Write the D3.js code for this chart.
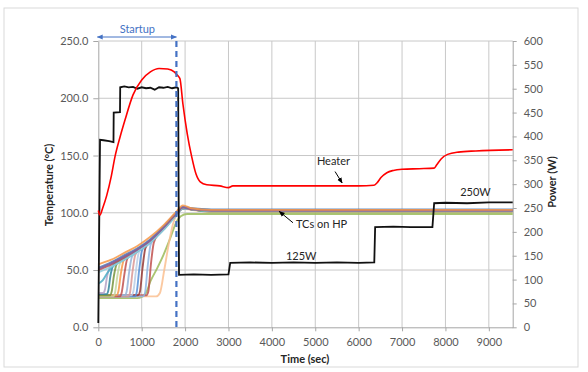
<!DOCTYPE html>
<html>
<head>
<meta charset="utf-8">
<script src="https://cdn.jsdelivr.net/npm/d3@7"></script>
<style>
  body { margin: 0; background: #fff; }
  svg text { font-family: Lato, "Open Sans", sans-serif; }
</style>
</head>
<body>
<div id="chart"></div>
<script>
// axis ticks
var timeTicks = [0, 1000, 2000, 3000, 4000, 5000, 6000, 7000, 8000, 9000];
var tempTicks = [0, 50, 100, 150, 200, 250];
var powerTicks = [0, 50, 100, 150, 200, 250, 300, 350, 400, 450, 500, 550, 600];

// heater temperature [time (s), degC]
var heaterTemp = [[0,102],[40,98],[100,104],[193,115],[300,132],[385,149],[500,166],[615,181],[800,203],
  [1000,216],[1200,223],[1400,226],[1600,225.5],[1750,223],[1800,221],[1850,219],[1882,217],[1950,195],
  [2050,169],[2152,149],[2250,134],[2350,127],[2500,124.5],[2800,123.5],[3000,122],[3100,123.5],
  [4000,123.5],[5000,123.5],[6000,123.5],[6350,124],[6420,126],[6520,131],[6650,135],[6800,137],
  [7000,138],[7400,138.5],[7740,139],[7800,142],[7900,147],[8050,151],[8300,153],[8700,154],[9550,155]];

// heater power [time (s), W]
var powerData = [[0,9],[40,393],[120,392],[250,390],[350,388],[355,450],[500,451],[505,503],[600,505],
  [700,503],[800,504],[900,500],[1000,503],[1100,501],[1200,502],[1300,498],[1400,503],[1500,502],
  [1600,504],[1700,501],[1800,503],[1840,501],[1860,110],[2200,111],[2600,110],[3000,111],[3040,135],
  [3500,136],[4000,135],[4500,136],[5000,135],[5500,136],[6000,135],[6360,136],[6380,210],[6800,211],
  [7200,210],[7700,210],[7740,260],[8000,261],[8500,260],[9000,262],[9550,262]];

// thermocouples on heat pipe [time (s), degC]
var tcColors = ["#F79646","#8064A2","#4F81BD","#C0504D","#93CDDD","#4BACC6","#B3A2C7","#31859C","#77933C",
  "#C3D69B","#F79646","#C0504D","#95B3D7","#D99694","#B9CDE5","#558ED5","#953735","#8EB4E3","#C0504D","#FAC090","#9BBB59"];
var tcData = [
  [[0,55],[300,59],[600,65],[900,71],[1200,79],[1500,89],[1800,101],[1950,106.5],[2150,104],[2600,102.5],[9550,102.5]],
  [[0,51],[300,56],[600,62],[900,68],[1200,76],[1500,87],[1800,100],[1950,105],[2150,103.5],[2600,102],[9550,102]],
  [[0,52],[300,57],[600,63],[900,69],[1200,77],[1500,88],[1800,100],[1950,105],[2150,104],[2600,103],[9550,103]],
  [[0,50],[300,55],[600,61],[900,68],[1200,76],[1500,87],[1800,99],[1950,104.5],[2150,103],[2600,102],[9550,102]],
  [[0,48],[300,53],[600,59],[900,66],[1200,74],[1500,85],[1800,98],[1950,104],[2150,103],[2600,101.5],[9550,101.5]],
  [[0,38],[100,41],[200,47],[300,52],[600,59],[900,66],[1200,74],[1500,85],[1800,98],[1950,104],[2150,103],[2600,101.5],[9550,101.5]],
  [[0,30],[120,30],[154,33],[200,44],[260,52],[350,57],[600,61],[900,67],[1200,75],[1500,86],[1800,99],[1950,104],[2150,103],[2600,102],[9550,102]],
  [[0,29],[190,29],[230,32],[280,45],[340,54],[430,58],[600,61],[900,67],[1200,75],[1500,86],[1800,99],[1950,104],[2150,103],[2600,101.5],[9550,101.5]],
  [[0,28],[270,28],[307,31],[360,45],[420,55],[510,59],[600,61],[900,67],[1200,75],[1500,86],[1800,99],[1950,104],[2150,103],[2600,101],[9550,101]],
  [[0,27],[345,27],[384,30],[440,45],[500,56],[590,61],[900,67],[1200,75],[1500,86],[1800,99],[1950,104],[2150,103],[2600,102],[9550,102]],
  [[0,28],[420,28],[461,31],[520,47],[580,58],[670,62],[900,67],[1200,75],[1500,86],[1800,99],[1950,104.5],[2150,103],[2600,102],[9550,102]],
  [[0,27],[500,27],[537,30],[600,46],[660,59],[750,64],[900,67],[1200,75],[1500,86],[1800,99],[1950,104],[2150,103],[2600,102],[9550,102]],
  [[0,28],[610,28],[652,31],[710,48],[770,61],[860,66],[1200,75],[1500,86],[1800,99],[1950,104],[2150,103],[2600,102.5],[9550,102.5]],
  [[0,27],[690,27],[729,30],[790,49],[850,63],[940,68],[1200,75],[1500,86],[1800,99],[1950,104],[2150,103],[2600,102],[9550,102]],
  [[0,28],[765,28],[806,31],[870,50],[930,65],[1020,70],[1200,75],[1500,86],[1800,99],[1950,104],[2150,103],[2600,102],[9550,102]],
  [[0,27],[840,27],[882,30],[945,51],[1005,67],[1100,72],[1200,75],[1500,86],[1800,99],[1950,104.5],[2150,103.5],[2600,102.5],[9550,102.5]],
  [[0,28],[915,28],[959,31],[1020,52],[1085,69],[1180,74],[1500,86],[1800,99],[1950,104],[2150,103],[2600,101.5],[9550,101.5]],
  [[0,27],[1030,27],[1076,30],[1140,54],[1205,72],[1300,78],[1500,86],[1800,99],[1950,104],[2150,103],[2600,102],[9550,102]],
  [[0,28],[1110,28],[1152,31],[1215,56],[1280,74],[1380,81],[1500,86],[1800,99],[1950,104],[2150,103],[2600,102],[9550,102]],
  [[0,27],[1330,27],[1420,30],[1520,50],[1620,72],[1720,90],[1800,98],[1950,103.5],[2150,102.5],[2600,101],[9550,101]],
  [[0,25.5],[900,25.5],[1000,26.5],[1100,30],[1200,40],[1350,51],[1500,63],[1650,77],[1800,92],[1900,97],[2050,99],[2300,99],[9550,99]]
];

var startupEnd = 1800;

var chartW = 588, chartH = 372;
var plotL = 98.3, plotR = 512.7, plotT = 41, plotB = 327.3;

var svg = d3.select("#chart").append("svg")
  .attr("width", chartW)
  .attr("height", chartH);

svg.append("rect")
  .attr("x", 4).attr("y", 8)
  .attr("width", 574).attr("height", 359)
  .attr("fill", "#fff")
  .attr("stroke", "#D9D9D9");

var x = d3.scaleLinear().domain([0, 9550]).range([plotL, plotR]);
var yT = d3.scaleLinear().domain([0, 250]).range([plotB, plotT]);
var yP = d3.scaleLinear().domain([0, 600]).range([plotB, plotT]);

// grid
svg.append("g").selectAll("line")
  .data(tempTicks.slice(1))
  .enter().append("line")
  .attr("x1", plotL).attr("x2", plotR)
  .attr("y1", function(d){ return yT(d); })
  .attr("y2", function(d){ return yT(d); })
  .style("stroke", "#C8C8C8");

svg.append("g").selectAll("line")
  .data(timeTicks.slice(1))
  .enter().append("line")
  .attr("x1", function(d){ return x(d); })
  .attr("x2", function(d){ return x(d); })
  .attr("y1", plotT).attr("y2", plotB)
  .style("stroke", "#C8C8C8");

// axes
function styleAxis(g) {
  g.selectAll("path, line").style("stroke", "#A6A6A6");
  g.selectAll("text").style("fill", "#595959").style("font-size", "11px").style("font-family", "Lato, sans-serif");
}

svg.append("g")
  .attr("transform", "translate(" + plotL + ",0)")
  .call(d3.axisLeft(yT).tickValues(tempTicks).tickSize(5).tickSizeOuter(0).tickPadding(5).tickFormat(d3.format(".1f")))
  .call(styleAxis);

svg.append("g")
  .attr("transform", "translate(0," + plotB + ")")
  .call(d3.axisBottom(x).tickValues(timeTicks).tickSize(4).tickSizeOuter(0).tickPadding(7).tickFormat(d3.format("d")))
  .call(styleAxis);

svg.append("g")
  .attr("transform", "translate(" + plotR + ",0)")
  .call(d3.axisRight(yP).tickValues(powerTicks).tickSize(4).tickSizeOuter(0).tickPadding(7))
  .call(styleAxis);

// series
var tcLine = d3.line()
  .x(function(d){ return x(d[0]); })
  .y(function(d){ return yT(d[1]); })
  .curve(d3.curveMonotoneX);

// late-rising TCs underneath, the early envelope group on top
var tcOrder = d3.range(tcData.length).reverse();

svg.append("g").selectAll("path")
  .data(tcOrder)
  .enter().append("path")
  .attr("d", function(i){ return tcLine(tcData[i]); })
  .attr("fill", "none")
  .style("stroke", function(i){ return tcColors[i]; })
  .style("stroke-width", 1.9)
  .style("stroke-opacity", 0.85);

var powerLine = d3.line()
  .x(function(d){ return x(d[0]); })
  .y(function(d){ return yP(d[1]); });

svg.append("path")
  .datum(powerData)
  .attr("d", powerLine)
  .attr("fill", "none")
  .style("stroke", "#111")
  .style("stroke-width", 1.8);

svg.append("path")
  .datum(heaterTemp)
  .attr("d", tcLine)
  .attr("fill", "none")
  .style("stroke", "#FF0000")
  .style("stroke-width", 1.6);

// startup marker
var defs = svg.append("defs");
defs.append("marker").attr("id", "blueHead")
  .attr("viewBox", "0 0 10 10").attr("refX", 9).attr("refY", 5)
  .attr("markerWidth", 6).attr("markerHeight", 6).attr("orient", "auto-start-reverse")
  .append("path").attr("d", "M0,1 L10,5 L0,9 z").attr("fill", "#4472C4");
defs.append("marker").attr("id", "blackHead")
  .attr("viewBox", "0 0 10 10").attr("refX", 9).attr("refY", 5)
  .attr("markerWidth", 6).attr("markerHeight", 6).attr("orient", "auto")
  .append("path").attr("d", "M0,1 L10,5 L0,9 z").attr("fill", "#000");

svg.append("line")
  .attr("x1", x(startupEnd)).attr("x2", x(startupEnd))
  .attr("y1", plotT).attr("y2", plotB)
  .style("stroke", "#4472C4")
  .style("stroke-width", 2.2)
  .style("stroke-dasharray", "6,4");

svg.append("line")
  .attr("x1", x(0) - 1).attr("x2", x(startupEnd))
  .attr("y1", plotT - 4).attr("y2", plotT - 4)
  .style("stroke", "#4472C4")
  .style("stroke-width", 1)
  .attr("marker-start", "url(#blueHead)")
  .attr("marker-end", "url(#blueHead)");

svg.append("text")
  .attr("x", x(startupEnd / 2)).attr("y", plotT - 8)
  .attr("text-anchor", "middle")
  .style("fill", "#4472C4").style("font-size", "11px")
  .text("Startup");

// annotations
function note(t, v, s, anchor) {
  svg.append("text")
    .attr("x", x(t)).attr("y", yT(v))
    .attr("text-anchor", anchor || "middle")
    .attr("dominant-baseline", "middle")
    .style("fill", "#262626").style("font-size", "11px")
    .text(s);
}
function pointer(t1, v1, t2, v2) {
  svg.append("line")
    .attr("x1", x(t1)).attr("y1", yT(v1))
    .attr("x2", x(t2)).attr("y2", yT(v2))
    .style("stroke", "#000").style("stroke-width", 1)
    .attr("marker-end", "url(#blackHead)");
}

note(5420, 144.5, "Heater");
pointer(5456, 136, 5620, 126);
note(4555, 89.3, "TCs on HP", "start");
pointer(4486, 91.3, 4170, 101.2);
note(4677, 61.6, "125W");
note(8691, 117, "250W");

// axis titles
svg.append("text")
  .attr("transform", "translate(50,185) rotate(-90)")
  .attr("text-anchor", "middle").attr("dominant-baseline", "middle")
  .style("font-weight", "bold").style("font-size", "11px").style("fill", "#262626")
  .text("Temperature (°C)");

svg.append("text")
  .attr("transform", "translate(553,182) rotate(-90)")
  .attr("text-anchor", "middle").attr("dominant-baseline", "middle")
  .style("font-weight", "bold").style("font-size", "11px").style("fill", "#262626")
  .text("Power (W)");

svg.append("text")
  .attr("x", 305).attr("y", 360)
  .attr("text-anchor", "middle").attr("dominant-baseline", "middle")
  .style("font-weight", "bold").style("font-size", "11px").style("fill", "#262626")
  .text("Time (sec)");
</script>
</body>
</html>
